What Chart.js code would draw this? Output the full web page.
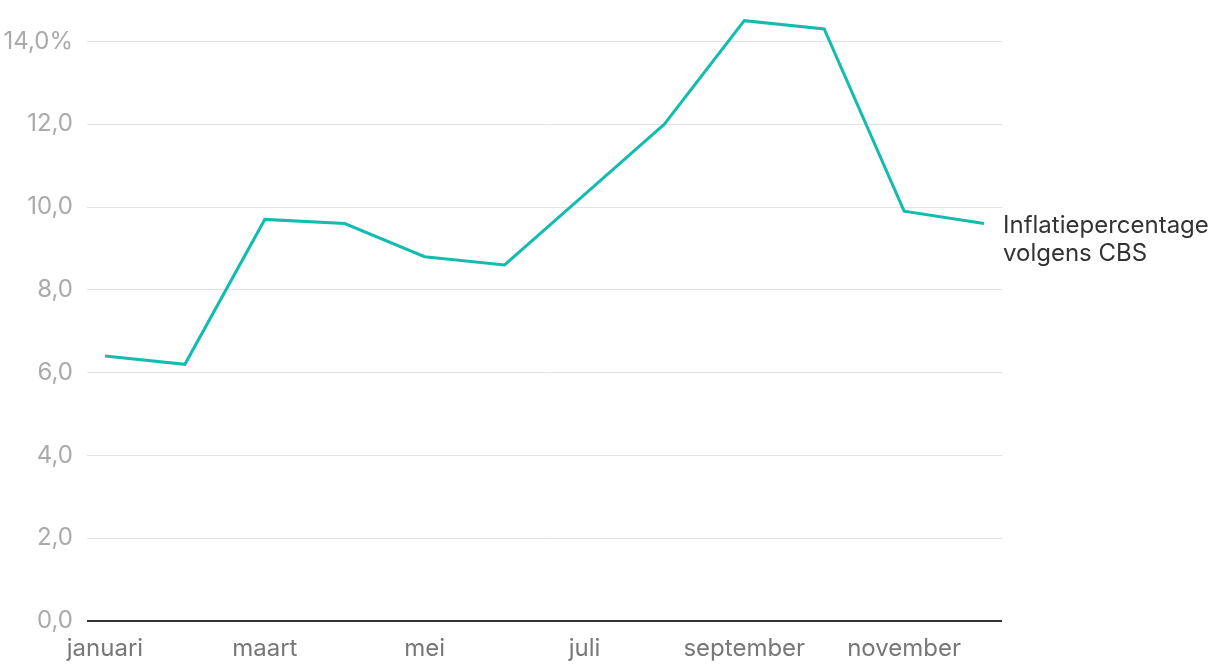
<!DOCTYPE html>
<html>
<head>
<meta charset="utf-8">
<script src="https://cdn.jsdelivr.net/npm/chart.js@4"></script>
<style>
  html, body { margin: 0; padding: 0; background: #fff; }
  #wrap { width: 1220px; height: 670px; }
</style>
</head>
<body>
<div id="wrap"><canvas id="inflatie"></canvas></div>
<script>
const months = ["januari", "februari", "maart", "april", "mei", "juni", "juli",
  "augustus", "september", "oktober", "november", "december"];
const inflation = [6.4, 6.2, 9.7, 9.6, 8.8, 8.6, 10.3, 12.0, 14.5, 14.3, 9.9, 9.6];
const xTicks = [0, 2, 4, 6, 8, 10];
const yTicks = [0, 2, 4, 6, 8, 10, 12, 14];
const seriesLabel = ["Inflatiepercentage", "volgens CBS"];

const font = "Inter, 'Noto Sans', sans-serif";

// label next to the end of the line
const endLabel = {
  id: "endLabel",
  afterDatasetsDraw(chart) {
    const ctx = chart.ctx;
    const meta = chart.getDatasetMeta(0);
    const last = meta.data[meta.data.length - 1];
    ctx.save();
    ctx.font = "24px " + font;
    ctx.fillStyle = "#333";
    ctx.textBaseline = "middle";
    ctx.textAlign = "left";
    ctx.fillText(seriesLabel[0], chart.chartArea.right + 1, last.y + 2);
    ctx.fillText(seriesLabel[1], chart.chartArea.right + 1, last.y + 30);
    ctx.restore();
  }
};

new Chart(document.getElementById("inflatie"), {
  type: "line",
  data: {
    datasets: [{
      label: "Inflatie",
      data: inflation.map((v, i) => ({ x: i, y: v })),
      borderColor: "#14bcb0",
      borderWidth: 3,
      pointRadius: 0,
      tension: 0,
      fill: false
    }]
  },
  options: {
    responsive: true,
    maintainAspectRatio: false,
    animation: false,
    layout: { padding: { top: 0, right: 218, bottom: 0, left: 0 } },
    plugins: { legend: { display: false }, tooltip: { enabled: false } },
    scales: {
      x: {
        type: "linear",
        min: -0.225,
        max: 11.225,
        afterBuildTicks: axis => { axis.ticks = xTicks.map(v => ({ value: v })); },
        afterFit: axis => { axis.height = 49; axis.paddingLeft = 0; axis.paddingRight = 0; },
        grid: { display: false },
        border: { display: false },
        ticks: {
          color: "#777",
          font: { family: font, size: 24 },
          padding: 5,
          maxRotation: 0,
          autoSkip: false,
          callback: v => months[v]
        }
      },
      y: {
        min: 0,
        max: 15,
        afterBuildTicks: axis => { axis.ticks = yTicks.map(v => ({ value: v })); },
        afterFit: axis => { axis.width = 87; axis.paddingTop = 0; axis.paddingBottom = 0; },
        border: { display: false },
        grid: {
          drawTicks: false,
          color: c => c.tick.value === 0 ? "#333" : "#e3e3e3",
          lineWidth: c => c.tick.value === 0 ? 2 : 1
        },
        ticks: {
          color: "#aaa",
          font: { family: font, size: 24 },
          padding: 14,
          callback: v => v.toFixed(1).replace(".", ",") + (v === 14 ? "%" : "")
        }
      }
    }
  },
  plugins: [endLabel]
});
</script>
</body>
</html>
